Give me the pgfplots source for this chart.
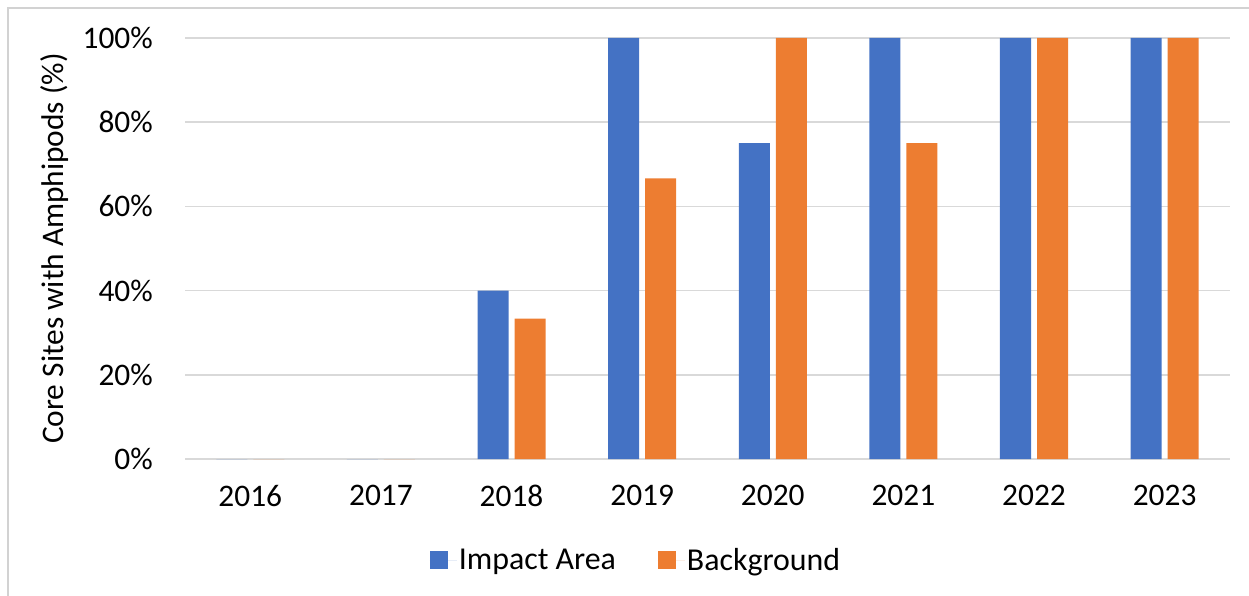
\documentclass[border=0pt]{standalone}
\usepackage{fontspec}
\setmainfont{Carlito}
\usepackage{pgfplots}
\pgfplotsset{compat=1.18}

\definecolor{impact}{RGB}{68,114,196}
\definecolor{backgr}{RGB}{237,125,49}
\definecolor{gridgray}{RGB}{217,217,217}
\definecolor{framegray}{RGB}{210,210,210}

\begin{document}
\begin{tikzpicture}
\useasboundingbox (0,0) rectangle (1249bp,596bp);
% chart frame (left and top edges)
\draw[framegray, line width=2bp] (8bp,0) -- (8bp,588bp) -- (1249bp,588bp);
\begin{axis}[
  at={(185bp,137bp)}, anchor=south west,
  scale only axis, width=1045bp, height=421bp,
  ybar=6bp, bar width=31bp,
  xmin=-0.5, xmax=7.5, ymin=0, ymax=100,
  xtick={0,...,7},
  xticklabels={2016,2017,2018,2019,2020,2021,2022,2023},
  ytick={0,20,...,100},
  yticklabel={\pgfmathprintnumber{\tick}\%},
  /pgf/number format/assume math mode=true,
  major tick length=0pt,
  axis line style={draw=none},
  ymajorgrids, grid style={gridgray, line width=1.5bp},
  font=\fontsize{31.5}{36}\selectfont,
  ticklabel style={font=\fontsize{31.5}{36}\selectfont},
  xticklabel style={inner sep=0pt, anchor=north, yshift=-26bp},
  yticklabel style={inner sep=0pt, anchor=east, xshift=-32bp},
  ylabel={Core Sites with Amphipods (\%)},
  every axis y label/.style={at={(axis description cs:0,0.5)}, xshift=-130bp, rotate=90, anchor=center, font=\fontsize{31.5}{36}\selectfont},
  legend columns=2,
  legend style={at={(axis description cs:0.4316,-0.24)}, anchor=center, draw=none,
    font=\fontsize{32}{36}\selectfont, inner sep=0pt,
    /tikz/every even column/.append style={column sep=40bp}},
  legend image code/.code={\fill[#1] (0bp,-9bp) rectangle (18bp,9bp); \path (0bp,0bp) -- (27bp,0bp);},
  clip=false,
]
% x axis line drawn as a 0% baseline
\draw[gridgray, line width=1.5bp] (axis cs:-0.5,0) -- (axis cs:7.5,0);
\addplot[fill=impact, draw=none] coordinates {(0,0) (1,0) (2,40) (3,100) (4,75) (5,100) (6,100) (7,100)};
\addplot[fill=backgr, draw=none] coordinates {(0,0) (1,0) (2,33.33) (3,66.67) (4,100) (5,75) (6,100) (7,100)};
\legend{Impact Area, Background}
\end{axis}
\end{tikzpicture}
\end{document}
